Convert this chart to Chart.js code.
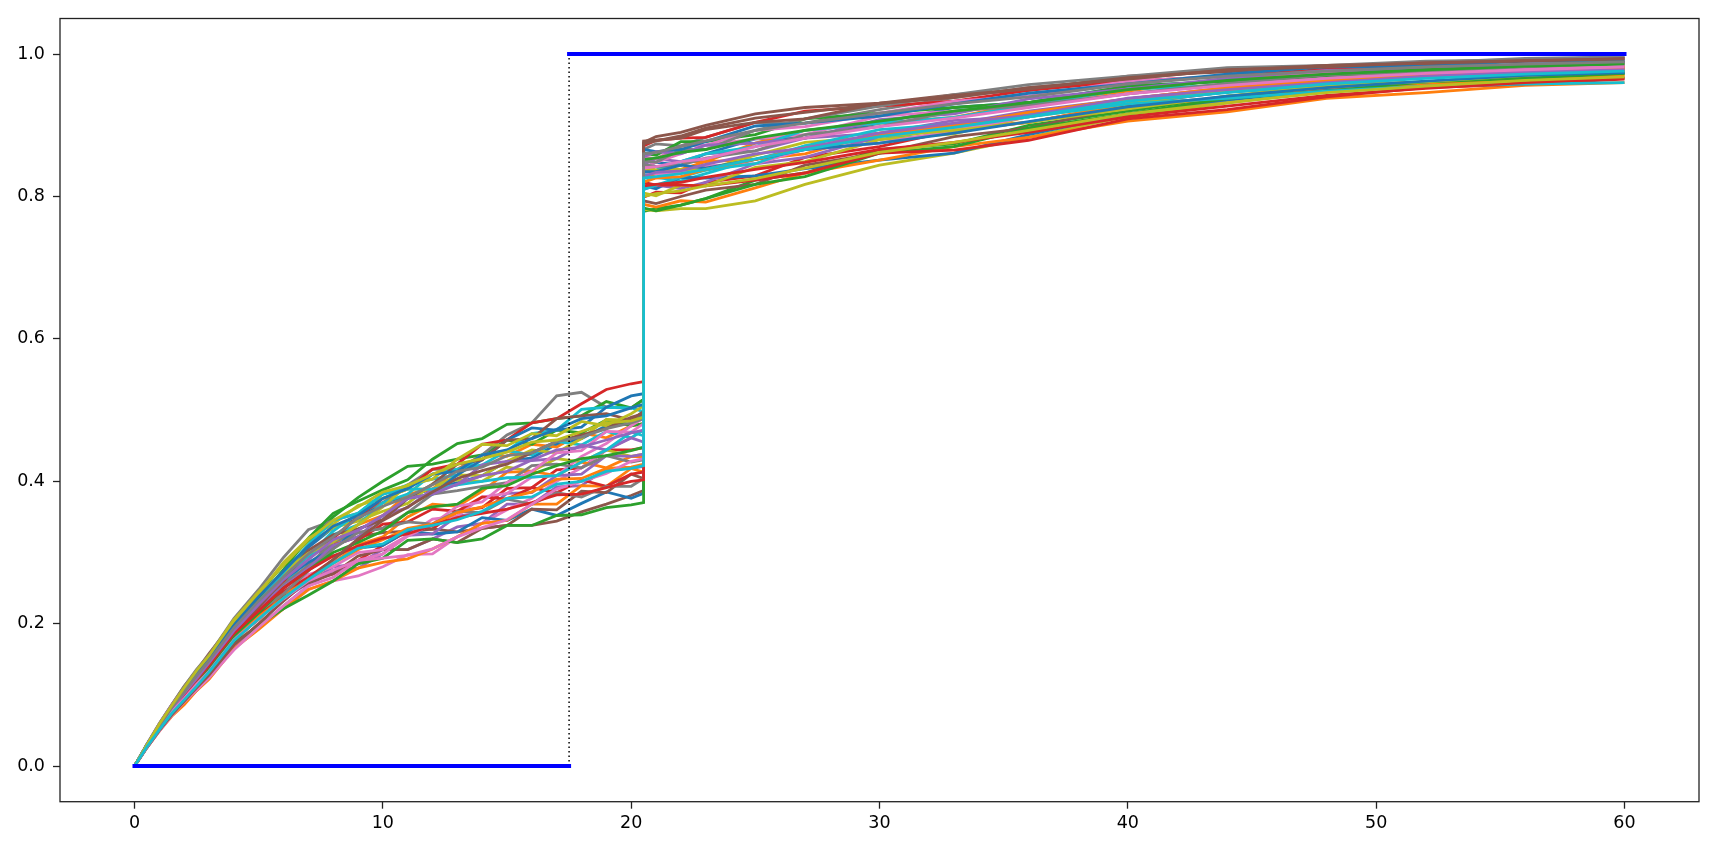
<!DOCTYPE html>
<html lang="en">
  <head>
    <meta charset="UTF-8" />
    <title>Simulated paths</title>
    <script src="https://cdn.jsdelivr.net/npm/chart.js"></script>
    <style>
      body { margin: 0; background: #fff; }
      #wrap { width: 1713px; height: 849px; }
    </style>
  </head>
  <body>
    <div id="wrap"><canvas id="chart" width="1713" height="849"></canvas></div>
    <script>
      // time grid: 20.5 appears twice, before and after the jump
      const days = [0, 0.5, 1, 1.5, 2, 2.5, 3, 4, 5, 6, 7, 8, 9, 10, 11, 12, 13, 14, 15, 16, 17, 18, 19, 20, 20.5,
        20.5, 21, 22, 23, 25, 27, 30, 33, 36, 40, 44, 48, 52, 56, 60];

      const p01 = [0,.029,.056,.081,.104,.126,.148,.196,.235,.269,.307,.335,.347,.370,.379,.389,.398,.408,.428,.433,.452,.460,.478,.486,.493, .840,.848,.844,.860,.881,.882,.903,.925,.932,.955,.962,.974,.979,.986,.989];
      const p02 = [0,.027,.052,.077,.096,.120,.138,.187,.220,.245,.278,.310,.339,.352,.382,.389,.417,.437,.435,.452,.448,.468,.461,.478,.481, .825,.832,.849,.849,.875,.893,.903,.911,.932,.948,.966,.971,.975,.982,.983];
      const p03 = [0,.030,.058,.084,.107,.133,.153,.198,.242,.283,.316,.350,.377,.400,.421,.424,.431,.437,.458,.452,.472,.468,.486,.478,.481, .779,.783,.788,.797,.823,.833,.866,.874,.900,.920,.941,.951,.961,.970,.973];
      const p04 = [0,.027,.051,.074,.091,.112,.129,.174,.209,.232,.261,.270,.289,.310,.330,.333,.358,.363,.390,.391,.416,.419,.444,.444,.447, .799,.806,.805,.820,.829,.855,.870,.893,.904,.930,.947,.956,.968,.972,.978];
      const p05 = [0,.028,.054,.076,.098,.115,.136,.176,.212,.235,.257,.280,.284,.304,.304,.319,.336,.341,.368,.368,.392,.394,.418,.418,.421, .845,.853,.849,.860,.864,.882,.889,.907,.912,.937,.947,.961,.970,.974,.980];
      const p06 = [0,.030,.059,.086,.112,.134,.158,.203,.237,.266,.295,.310,.322,.328,.330,.333,.329,.334,.338,.338,.344,.357,.368,.380,.387, .876,.884,.890,.900,.916,.925,.931,.943,.949,.969,.975,.984,.986,.990,.994];
      const p07 = [0,.027,.052,.073,.093,.109,.129,.167,.200,.221,.248,.260,.267,.280,.297,.298,.322,.341,.360,.376,.400,.419,.444,.461,.472, .856,.853,.871,.872,.881,.887,.913,.920,.928,.944,.959,.966,.975,.978,.980];
      const p08 = [0,.030,.060,.086,.112,.136,.156,.207,.248,.293,.332,.345,.355,.370,.395,.417,.416,.437,.465,.482,.520,.525,.504,.503,.515, .866,.874,.871,.883,.904,.903,.922,.939,.953,.965,.978,.982,.988,.994,.996];
      const p09 = [0,.029,.055,.081,.104,.128,.151,.200,.237,.269,.311,.335,.344,.358,.369,.396,.402,.400,.420,.414,.432,.427,.444,.435,.438, .782,.780,.783,.783,.794,.817,.844,.861,.883,.913,.931,.948,.955,.964,.971];
      const p10 = [0,.028,.055,.077,.100,.123,.140,.189,.228,.255,.290,.325,.339,.370,.382,.410,.417,.423,.443,.437,.456,.451,.470,.461,.472, .820,.827,.822,.832,.852,.871,.880,.897,.916,.930,.947,.953,.959,.964,.967];
      const p11 = [0,.026,.050,.074,.094,.115,.133,.181,.212,.249,.282,.295,.306,.310,.330,.326,.329,.349,.345,.361,.352,.369,.385,.376,.383, .815,.811,.827,.826,.829,.839,.851,.861,.887,.916,.935,.951,.961,.966,.973];
      const p12 = [0,.029,.056,.080,.099,.118,.135,.181,.209,.242,.261,.285,.311,.322,.350,.368,.365,.386,.413,.414,.408,.427,.419,.435,.434, .835,.842,.838,.849,.852,.860,.889,.897,.904,.930,.938,.953,.957,.966,.969];
      const p13 = [0,.028,.055,.082,.103,.128,.147,.198,.234,.276,.320,.355,.372,.388,.402,.431,.453,.460,.480,.482,.488,.492,.512,.503,.515, .861,.858,.877,.877,.887,.909,.917,.925,.932,.955,.962,.969,.977,.980,.982];
      const p14 = [0,.027,.053,.078,.100,.120,.144,.187,.228,.259,.299,.320,.350,.376,.389,.417,.424,.452,.458,.482,.488,.509,.529,.537,.540, .871,.879,.882,.883,.904,.920,.927,.934,.949,.962,.969,.979,.981,.984,.989];
      const p15 = [0,.027,.050,.072,.089,.106,.126,.170,.195,.225,.253,.275,.278,.298,.324,.326,.351,.356,.383,.384,.408,.410,.436,.435,.438, .810,.816,.811,.820,.846,.855,.884,.902,.920,.937,.953,.966,.970,.978,.980];
      const p16 = [0,.028,.053,.077,.095,.117,.133,.178,.206,.238,.257,.270,.295,.304,.304,.319,.314,.334,.338,.361,.360,.386,.384,.410,.404, .794,.790,.800,.809,.817,.844,.861,.884,.896,.927,.938,.956,.961,.970,.976];
      const p17 = [0,.029,.056,.080,.100,.125,.144,.185,.214,.249,.269,.280,.300,.304,.324,.347,.351,.378,.383,.406,.408,.435,.453,.478,.489, .840,.848,.860,.872,.893,.898,.917,.934,.941,.962,.969,.974,.981,.984,.985];
      const p18 = [0,.028,.054,.079,.099,.118,.142,.185,.217,.255,.282,.315,.328,.334,.356,.382,.387,.393,.398,.422,.424,.419,.436,.427,.430, .850,.848,.866,.866,.893,.909,.927,.943,.957,.969,.981,.984,.990,.992,.996];
      const p19 = [0,.030,.056,.083,.108,.130,.154,.205,.242,.286,.320,.340,.366,.376,.389,.389,.409,.408,.428,.444,.440,.460,.487,.486,.498, .805,.801,.816,.815,.841,.849,.880,.888,.912,.930,.950,.958,.970,.974,.980];
      const p20 = [0,.027,.053,.074,.095,.118,.136,.185,.226,.266,.295,.330,.355,.382,.395,.403,.409,.437,.443,.467,.472,.501,.504,.503,.498, .830,.837,.849,.860,.870,.893,.903,.911,.928,.951,.956,.964,.968,.972,.974];
      const p21 = [0,.030,.058,.083,.107,.126,.145,.194,.226,.262,.286,.305,.333,.346,.376,.382,.409,.430,.458,.475,.472,.476,.504,.520,.523, .866,.863,.866,.877,.899,.903,.913,.930,.945,.958,.972,.982,.983,.990,.991];
      const p22 = [0,.026,.049,.070,.086,.106,.122,.165,.192,.221,.248,.260,.278,.286,.291,.305,.322,.341,.345,.368,.368,.394,.393,.418,.413, .789,.785,.794,.792,.812,.833,.851,.870,.883,.906,.919,.938,.946,.956,.960];
      const p23 = [0,.027,.052,.076,.095,.114,.131,.172,.198,.221,.240,.260,.284,.292,.317,.319,.314,.319,.338,.338,.352,.353,.363,.367,.370, .784,.780,.788,.797,.817,.828,.861,.870,.896,.916,.938,.948,.961,.966,.973];
      const p24 = [0,.028,.054,.077,.096,.115,.136,.176,.212,.245,.265,.290,.317,.340,.343,.361,.358,.378,.375,.391,.384,.402,.393,.410,.413, .820,.816,.816,.815,.823,.833,.861,.865,.879,.909,.922,.940,.953,.958,.965];
      const p25 = [0,.031,.060,.086,.109,.131,.149,.192,.223,.252,.278,.310,.322,.352,.363,.389,.395,.423,.428,.429,.432,.451,.444,.461,.455, .856,.863,.860,.872,.875,.882,.908,.916,.937,.951,.966,.977,.979,.986,.987];
      const p26 = [0,.029,.056,.079,.102,.120,.142,.183,.223,.262,.303,.325,.333,.346,.376,.396,.424,.430,.458,.460,.488,.492,.495,.486,.498, .878,.879,.882,.894,.904,.909,.931,.939,.953,.965,.978,.982,.988,.990,.994];
      const p27 = [0,.026,.049,.071,.090,.107,.124,.163,.195,.225,.253,.265,.289,.298,.323,.340,.365,.371,.398,.414,.440,.443,.470,.469,.481, .835,.832,.833,.843,.846,.866,.875,.893,.912,.937,.953,.966,.970,.978,.983];
      const p28 = [0,.027,.052,.075,.098,.120,.136,.178,.217,.242,.274,.305,.328,.334,.343,.340,.358,.356,.375,.368,.384,.378,.393,.393,.404, .845,.842,.844,.854,.864,.887,.898,.920,.928,.944,.959,.971,.975,.982,.987];
      const p29 = [0,.028,.055,.081,.106,.131,.151,.203,.240,.272,.299,.315,.339,.364,.395,.403,.431,.452,.450,.467,.464,.484,.478,.495,.506, .840,.837,.838,.837,.858,.876,.884,.893,.904,.923,.941,.956,.961,.970,.976];
      const p30 = [0,.030,.057,.082,.102,.122,.140,.189,.231,.272,.311,.345,.355,.382,.389,.389,.395,.400,.405,.406,.408,.427,.444,.469,.464, .810,.816,.827,.837,.846,.871,.894,.902,.912,.930,.938,.948,.955,.958,.960];
      const p31 = [0,.030,.058,.083,.106,.130,.152,.198,.238,.274,.309,.337,.352,.376,.390,.410,.414,.437,.444,.460,.473,.488,.492,.503,.508, .835,.835,.844,.840,.852,.866,.875,.889,.905,.926,.941,.953,.962,.970,.974];
      const p32 = [0,.027,.051,.074,.093,.113,.133,.177,.210,.236,.262,.285,.304,.318,.334,.340,.356,.364,.376,.385,.403,.404,.418,.420,.424, .820,.826,.828,.838,.852,.868,.886,.900,.918,.937,.953,.963,.971,.977,.981];
      const p33 = [0,.028,.053,.078,.097,.118,.137,.183,.215,.250,.275,.300,.314,.330,.356,.364,.368,.390,.394,.410,.422,.432,.436,.443,.448, .852,.854,.862,.866,.882,.893,.906,.920,.932,.950,.963,.972,.978,.983,.986];
      const p34 = [0,.028,.054,.078,.100,.121,.141,.186,.218,.250,.275,.295,.309,.320,.326,.338,.349,.355,.361,.370,.381,.382,.391,.400,.402, .815,.817,.820,.827,.838,.848,.866,.876,.890,.912,.927,.942,.952,.960,.966];
      const p35 = [0,.029,.055,.080,.102,.123,.145,.190,.227,.262,.290,.318,.331,.352,.376,.382,.396,.408,.414,.430,.444,.448,.458,.468,.472, .828,.834,.836,.845,.860,.868,.889,.903,.914,.938,.950,.960,.969,.975,.978];
      const p36 = [0,.026,.050,.072,.091,.110,.128,.170,.200,.232,.262,.290,.319,.345,.364,.385,.404,.415,.424,.440,.456,.465,.474,.490,.495, .874,.878,.885,.896,.910,.918,.930,.942,.951,.967,.977,.984,.987,.991,.993];
      const p37 = [0,.027,.052,.076,.095,.115,.133,.177,.207,.235,.260,.275,.289,.292,.296,.305,.322,.335,.346,.368,.389,.400,.411,.428,.432, .840,.842,.849,.853,.870,.882,.898,.910,.925,.944,.956,.966,.973,.978,.982];
      const p38 = [0,.029,.056,.082,.104,.127,.148,.194,.232,.266,.298,.322,.349,.365,.378,.395,.414,.420,.436,.440,.456,.462,.474,.482,.488, .860,.862,.870,.878,.893,.903,.917,.930,.940,.958,.969,.976,.982,.986,.989];
      const p39 = [0,.030,.059,.085,.110,.134,.155,.205,.245,.282,.318,.345,.364,.385,.394,.410,.424,.432,.441,.455,.458,.470,.482,.485,.490, .800,.804,.808,.815,.825,.840,.862,.876,.893,.916,.932,.946,.955,.963,.968];
      const p40 = [0,.027,.051,.074,.093,.112,.132,.176,.207,.236,.262,.285,.306,.312,.332,.338,.346,.358,.376,.378,.396,.400,.414,.418,.422, .826,.828,.832,.838,.853,.866,.884,.897,.912,.934,.946,.958,.966,.972,.976];

      const paths = [p01, p02, p03, p04, p05, p06, p07, p08, p09, p10, p11, p12, p13, p14, p15, p16, p17, p18, p19, p20,
        p21, p22, p23, p24, p25, p26, p27, p28, p29, p30, p31, p32, p33, p34, p35, p36, p37, p38, p39, p40];

      // target level and the switch between the two levels
      const lowDays = [0, 17.5];
      const lowValues = [0, 0];
      const highDays = [17.5, 60];
      const highValues = [1, 1];
      const switchDays = [17.5, 17.5];
      const switchValues = [0, 1];

      const xTicks = [0, 10, 20, 30, 40, 50, 60];
      const yTicks = [0, 0.2, 0.4, 0.6, 0.8, 1.0];

      const tab10 = ["#1f77b4", "#ff7f0e", "#2ca02c", "#d62728", "#9467bd",
        "#8c564b", "#e377c2", "#7f7f7f", "#bcbd22", "#17becf"];

      const pts = (xs, ys) => xs.map((x, i) => ({ x: x, y: ys[i] }));

      const datasets = [
        { data: pts(lowDays, lowValues), borderColor: "#0000ff", borderWidth: 4, borderCapStyle: "square" },
        { data: pts(highDays, highValues), borderColor: "#0000ff", borderWidth: 4, borderCapStyle: "square" },
        { data: pts(switchDays, switchValues), borderColor: "#000", borderWidth: 1.5, borderDash: [1.7, 2.8] },
      ];
      // chart.js draws the first dataset on top, matplotlib the last one
      for (let i = paths.length - 1; i >= 0; i--) {
        datasets.push({ data: pts(days, paths[i]), borderColor: tab10[i % 10], borderWidth: 2.8 });
      }

      const frame = {
        id: "frame",
        afterDraw(chart) {
          const a = chart.chartArea;
          const ctx = chart.ctx;
          ctx.save();
          ctx.strokeStyle = "#222";
          ctx.lineWidth = 1.3;
          ctx.strokeRect(a.left, a.top, a.right - a.left, a.bottom - a.top);
          ctx.restore();
        },
      };

      const tickFont = { family: "DejaVu Sans", size: 17.5 };

      new Chart(document.getElementById("chart"), {
        type: "line",
        data: { datasets: datasets },
        options: {
          responsive: false,
          animation: false,
          events: [],
          layout: { padding: { top: 14, right: 14, left: 0, bottom: 0 } },
          elements: { point: { radius: 0 }, line: { tension: 0, fill: false } },
          plugins: { legend: { display: false }, tooltip: { enabled: false } },
          scales: {
            x: {
              type: "linear",
              min: -3,
              max: 63,
              afterBuildTicks: (s) => { s.ticks = xTicks.map((v) => ({ value: v })); },
              afterFit: (s) => { s.height = 47.3; },
              grid: { drawOnChartArea: false, tickLength: 7, tickWidth: 1.3, tickColor: "#222" },
              border: { display: false },
              ticks: { color: "#000", font: tickFont, padding: 4, maxRotation: 0, callback: (v) => String(v) },
            },
            y: {
              type: "linear",
              min: -0.05,
              max: 1.05,
              afterBuildTicks: (s) => { s.ticks = yTicks.map((v) => ({ value: v })); },
              afterFit: (s) => { s.width = 60; },
              grid: { drawOnChartArea: false, tickLength: 7, tickWidth: 1.3, tickColor: "#222" },
              border: { display: false },
              ticks: { color: "#000", font: tickFont, padding: 8, callback: (v) => v.toFixed(1) },
            },
          },
        },
        plugins: [frame],
      });
    </script>
  </body>
</html>
